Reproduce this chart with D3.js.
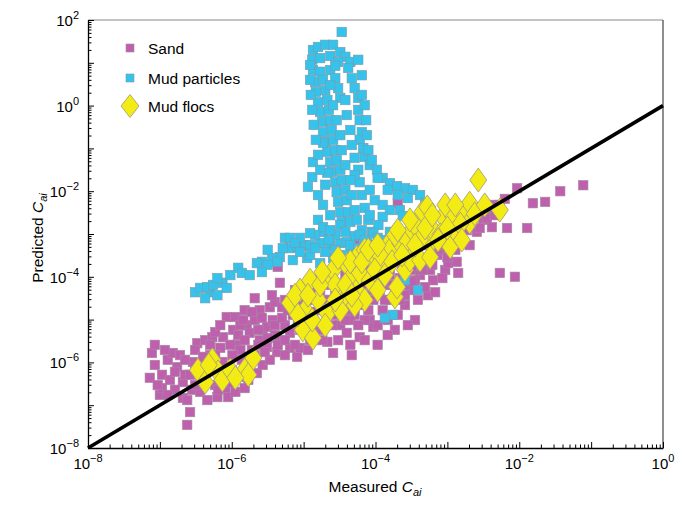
<!DOCTYPE html>
<html>
<head>
<meta charset="utf-8">
<script src="https://cdn.jsdelivr.net/npm/d3@7"></script>
<style>
    body { margin: 0; background: #fff; }
    svg { font-family: "Liberation Sans", Arial, Helvetica, sans-serif; }
</style>
</head>
<body>
<svg id="chart" width="689" height="507"></svg>
<script>
// values are log10 of [measured Cai, predicted Cai]
const sandLog = [
    [-7.14, -6.36], [-7.11, -5.78], [-7.07, -6.06], [-7.00, -6.76], [-6.97, -6.29], [-6.97, -6.60],
    [-6.89, -5.94], [-6.86, -6.41], [-6.82, -5.78], [-6.76, -6.11], [-6.72, -5.83], [-6.68, -6.46],
    [-6.68, -6.83], [-6.62, -6.88], [-6.62, -7.46], [-6.58, -7.16], [-6.55, -6.64], [-6.54, -5.99],
    [-6.48, -5.55], [-6.44, -6.29], [-6.44, -6.69], [-6.37, -5.48], [-6.34, -6.88], [-6.30, -5.83],
    [-6.27, -5.41], [-6.23, -6.53], [-6.20, -6.81], [-6.16, -5.66], [-6.12, -5.41], [-6.09, -6.60],
    [-6.07, -4.94], [-6.05, -6.81], [-6.02, -6.48], [-5.98, -5.24], [-5.95, -4.94], [-5.93, -5.59],
    [-5.88, -6.34], [-5.86, -5.94], [-5.79, -5.13], [-5.77, -6.41], [-5.75, -5.31], [-5.72, -5.71],
    [-5.68, -4.50], [-5.65, -6.25], [-5.61, -5.48], [-5.57, -5.24], [-5.57, -6.06], [-5.51, -5.64],
    [-5.51, -5.17], [-5.47, -4.71], [-5.43, -5.01], [-5.40, -4.59], [-5.37, -5.76], [-5.36, -3.77],
    [-5.33, -5.48], [-5.33, -4.14], [-5.30, -4.71], [-5.26, -5.13], [-5.19, -5.31], [-5.19, -5.66],
    [-5.15, -4.89], [-5.09, -5.87], [-5.05, -5.66], [-5.02, -4.54], [-4.98, -5.13], [-4.91, -5.48],
    [-4.87, -4.82], [-4.80, -4.43], [-4.77, -5.24], [-4.67, -5.52], [-4.63, -4.78], [-4.59, -5.78],
    [-4.56, -4.31], [-4.49, -5.13], [-4.40, -5.31], [-4.40, -4.50], [-4.33, -5.83], [-4.29, -3.19],
    [-4.29, -4.89], [-4.22, -5.41], [-4.17, -4.47], [-4.15, -4.08], [-4.08, -5.01], [-4.03, -5.17],
    [-4.03, -4.54], [-4.01, -3.79], [-3.97, -5.59], [-3.90, -4.78], [-3.87, -4.19], [-3.80, -4.54],
    [-3.77, -3.65], [-3.73, -5.24], [-3.69, -2.28], [-3.66, -4.03], [-3.62, -3.37], [-3.59, -4.66],
    [-3.52, -4.31], [-3.49, -3.84], [-3.45, -5.01], [-3.41, -3.26], [-3.38, -3.96], [-3.31, -3.61],
    [-3.27, -4.43], [-3.24, -3.02], [-3.20, -4.08], [-3.14, -3.49], [-3.10, -2.91], [-3.03, -3.84],
    [-2.99, -3.68], [-2.94, -3.26], [-2.87, -3.65], [-2.85, -3.91], [-2.82, -3.02], [-2.75, -2.67],
    [-2.69, -3.26], [-2.59, -2.95], [-2.50, -2.67], [-2.41, -2.49], [-2.38, -2.84], [-2.37, -2.32],
    [-2.27, -3.91], [-2.20, -2.18], [-2.17, -2.86], [-2.06, -4.00], [-2.03, -1.93], [-1.89, -2.86],
    [-1.81, -2.28], [-1.64, -2.25], [-1.43, -2.00], [-1.11, -1.86],
    [-5.05, -5.24], [-4.91, -4.96], [-4.77, -4.78], [-4.70, -5.13], [-4.56, -4.89], [-4.42, -4.78],
    [-4.35, -5.01], [-4.22, -4.66], [-4.15, -5.01], [-3.94, -4.43], [-3.83, -5.01], [-3.73, -4.31],
    [-3.66, -4.54], [-3.59, -4.19], [-3.45, -4.08], [-3.38, -3.61], [-3.24, -3.84], [-3.10, -3.37],
    [-2.96, -3.07], [-2.80, -2.84], [-2.62, -2.56], [-2.48, -2.44], [-3.94, -3.37], [-4.08, -3.49],
    [-4.22, -3.72], [-4.42, -3.96], [-4.63, -4.19], [-4.84, -4.08], [-4.98, -4.31], [-5.12, -4.31],
    [-5.26, -4.54], [-5.61, -4.78], [-5.82, -4.78], [-5.88, -5.13], [-6.02, -5.59], [-6.23, -5.83],
    [-6.37, -5.94], [-6.51, -6.22], [-6.65, -6.29], [-6.79, -6.64], [-5.68, -5.01], [-5.40, -5.36],
    [-5.26, -5.83], [-5.47, -5.94], [-5.75, -6.06], [-6.00, -6.18], [-6.27, -6.18], [-6.13, -5.99],
    [-5.88, -5.71], [-5.63, -5.59], [-5.05, -4.89], [-4.49, -4.54], [-4.29, -4.31], [-4.01, -4.12],
    [-3.80, -3.96], [-3.52, -3.56], [-3.31, -3.26], [-3.52, -3.14], [-3.73, -3.33], [-4.15, -3.84],
    [-4.35, -4.08], [-4.63, -4.54], [-4.91, -4.54], [-4.77, -4.31],
    [-7.07, -5.59], [-6.93, -5.71], [-7.03, -6.53], [-6.89, -6.76], [-6.79, -6.22], [-6.65, -5.94],
    [-6.58, -6.29], [-6.51, -6.53], [-6.51, -5.71], [-6.40, -5.87], [-6.30, -5.59], [-6.23, -5.29],
    [-6.16, -5.13], [-6.19, -6.64], [-6.09, -6.29], [-5.99, -5.83], [-5.95, -6.69], [-5.91, -5.36],
    [-5.84, -5.01], [-5.82, -5.48], [-5.82, -6.60], [-5.72, -4.82], [-5.68, -5.83], [-5.63, -5.24],
    [-5.58, -4.96], [-5.54, -5.76], [-5.50, -5.43], [-5.44, -4.43], [-5.40, -5.13], [-5.36, -5.59],
    [-5.30, -4.96], [-5.26, -5.48], [-5.22, -4.78], [-5.16, -4.54], [-5.12, -5.59], [-5.08, -5.08],
    [-4.98, -4.54], [-4.94, -5.71], [-4.88, -5.24], [-4.84, -4.31], [-4.74, -5.48], [-4.65, -4.54],
    [-4.60, -5.13], [-4.52, -5.48], [-4.47, -4.26], [-4.42, -5.01], [-4.35, -5.59], [-4.29, -4.54],
    [-4.24, -5.13], [-4.19, -4.19], [-4.15, -5.48], [-4.10, -4.78], [-4.05, -4.31], [-3.97, -5.13],
    [-3.91, -3.96], [-3.87, -4.54], [-3.83, -5.36], [-3.77, -4.19], [-3.69, -4.89], [-3.63, -3.72],
    [-3.59, -4.43], [-3.55, -5.13], [-3.49, -4.12], [-3.41, -4.54], [-3.35, -3.84], [-3.31, -4.24],
    [-3.21, -3.72], [-3.17, -4.36], [-3.13, -3.26], [-3.07, -4.03], [-3.00, -3.54], [-2.94, -2.91],
    [-2.89, -3.37], [-2.80, -3.14], [-2.73, -2.91], [-2.66, -2.72], [-2.55, -2.86], [-2.45, -2.63],
    [-2.34, -2.56], [-2.27, -2.32]
]

const mudLog = [
    [-4.47, 1.72],
    [-4.87, 1.30], [-4.80, 1.37], [-4.70, 1.42], [-4.59, 1.42], [-4.49, 1.25], [-4.42, 1.14],
    [-4.88, 1.07], [-4.77, 1.11], [-4.63, 1.16], [-4.52, 1.02], [-4.35, 1.02],
    [-4.87, 0.83], [-4.77, 0.79], [-4.63, 0.83], [-4.84, 0.55], [-4.73, 0.60], [-4.56, 0.64],
    [-4.83, 0.32], [-4.70, 0.36], [-4.52, 0.41], [-4.80, 0.08], [-4.67, 0.13], [-4.49, 0.18],
    [-4.77, -0.15], [-4.65, -0.10], [-4.74, -0.38], [-4.63, -0.34], [-4.73, -0.62], [-4.61, -0.57],
    [-4.70, -0.85], [-4.59, -0.80], [-4.67, -1.08], [-4.56, -1.04], [-4.63, -1.32], [-4.54, -1.27],
    [-4.61, -1.55], [-4.49, -1.50], [-4.56, -1.79], [-4.47, -1.74], [-4.54, -2.02], [-4.42, -1.97],
    [-4.52, -2.25], [-4.40, -2.21], [-4.49, -2.49], [-4.38, -2.49], [-4.47, -2.72], [-4.35, -2.72],
    [-4.38, 0.88], [-4.33, 0.64], [-4.29, 0.41], [-4.24, 0.18], [-4.19, 0.25], [-4.24, -0.10],
    [-4.22, -0.34], [-4.19, -0.62], [-4.22, -0.80], [-4.17, -0.99], [-4.15, -1.20], [-4.08, -1.39],
    [-3.98, -1.50], [-3.90, -1.69], [-3.80, -1.81], [-3.70, -1.88], [-3.59, -1.93], [-3.48, -1.97],
    [-3.38, -2.09], [-3.31, -2.28],
    [-4.42, 0.13], [-4.40, -0.22], [-4.35, -0.57], [-4.33, -0.92], [-4.29, -1.22], [-4.24, -1.50],
    [-4.22, -1.79], [-4.19, -2.09], [-4.15, -2.39], [-4.10, -2.67], [-4.05, -2.95],
    [-4.29, -1.62], [-4.08, -1.97], [-4.01, -2.21], [-3.90, -2.32], [-3.80, -2.44], [-3.66, -2.44],
    [-3.62, -2.58], [-3.90, -2.60], [-4.08, -2.56], [-4.26, -2.67], [-3.96, -2.79], [-4.19, -2.91],
    [-4.29, -3.05],
    [-4.87, -1.32], [-4.88, -1.67], [-4.94, -1.90], [-4.80, -2.09], [-4.73, -0.87], [-4.67, -1.57],
    [-4.73, -2.32], [-4.80, -2.67], [-4.73, -2.95], [-4.63, -2.56],
    [-4.91, 0.95], [-4.91, 0.60], [-4.90, 0.25], [-4.88, -0.10], [-4.86, -0.45], [-4.83, -0.80],
    [-4.80, -1.15], [-4.77, -1.50], [-4.70, -1.85],
    [-4.56, 0.93], [-4.63, 0.48], [-4.59, 0.01], [-4.54, -0.34], [-4.49, -0.69], [-4.47, -1.04],
    [-4.42, -1.39], [-4.35, -1.74], [-4.33, -2.09], [-4.29, -2.44],
    [-4.24, 1.07], [-4.19, 0.71], [-4.15, 0.01], [-4.13, -0.34], [-4.12, -0.69], [-4.10, -1.04],
    [-4.05, -1.27], [-3.97, -1.69], [-3.83, -1.97], [-3.69, -2.09], [-3.55, -2.16],
    [-5.26, -3.09], [-5.19, -3.33], [-5.09, -3.30], [-4.98, -3.26], [-4.91, -3.26], [-4.77, -3.21],
    [-4.63, -3.26], [-4.49, -3.21], [-4.40, -3.19], [-4.22, -3.02], [-4.12, -3.21], [-4.03, -2.98],
    [-4.49, -2.79], [-4.73, -2.84], [-5.33, -3.54], [-5.15, -3.61], [-4.95, -3.56], [-4.77, -3.68],
    [-4.59, -3.56], [-5.05, -3.09], [-4.84, -3.02], [-4.56, -3.02], [-4.33, -3.37], [-3.94, -3.26],
    [-5.19, -3.09], [-5.05, -3.42], [-4.91, -3.49], [-4.84, -3.33], [-4.70, -3.42], [-4.65, -3.14],
    [-4.56, -3.37], [-4.42, -3.49], [-4.35, -3.26], [-4.24, -3.33], [-4.15, -3.14], [-4.05, -3.26],
    [-3.97, -3.09], [-3.87, -3.14], [-3.80, -2.95], [-4.42, -2.95], [-4.63, -2.91], [-4.91, -2.98],
    [-5.12, -3.21], [-5.44, -3.56], [-5.58, -3.65], [-5.91, -3.79], [-6.13, -4.14], [-6.30, -4.36],
    [-6.51, -4.36],
    [-6.44, -4.26], [-6.34, -4.24], [-6.26, -4.19], [-6.20, -4.03], [-6.07, -4.26], [-6.37, -4.50],
    [-6.20, -4.43], [-6.02, -3.96], [-5.86, -3.91], [-5.75, -3.96], [-5.65, -3.68], [-5.50, -3.72],
    [-5.50, -3.37], [-5.37, -3.65], [-5.29, -3.33], [-5.58, -3.89],
    [-3.41, -4.31], [-3.76, -4.89], [-3.87, -4.96], [-3.59, -4.08]
]

const flocLog = [
    [-6.47, -6.18], [-6.37, -6.46], [-6.27, -5.94], [-6.19, -6.22], [-6.13, -6.41], [-6.02, -6.18],
    [-5.82, -6.18], [-5.70, -5.90], [-5.77, -6.29], [-6.32, -6.06], [-5.95, -6.36],
    [-5.19, -4.61], [-5.05, -4.31], [-5.01, -5.24], [-4.91, -4.08], [-4.87, -5.43], [-4.80, -4.54],
    [-4.67, -4.85], [-4.63, -4.03], [-4.59, -3.84], [-4.49, -4.31], [-4.45, -4.61], [-4.40, -3.72],
    [-4.35, -4.03], [-4.26, -3.54], [-4.26, -4.31], [-4.22, -3.91], [-4.15, -4.54], [-4.08, -4.08],
    [-4.03, -3.61], [-3.97, -4.31], [-3.90, -3.68], [-3.83, -3.26], [-3.80, -3.37], [-3.73, -4.47],
    [-3.70, -4.24], [-3.66, -3.21], [-3.59, -3.84], [-3.56, -3.14], [-3.52, -3.61], [-3.49, -2.91],
    [-3.38, -3.61], [-3.35, -2.49], [-3.28, -2.37], [-3.24, -3.21], [-3.24, -3.54], [-3.20, -2.91],
    [-3.06, -2.60], [-2.96, -3.30], [-2.92, -2.60], [-2.87, -2.98], [-2.78, -2.51], [-2.69, -2.28],
    [-2.69, -2.72], [-2.57, -1.74], [-2.27, -2.44], [-3.10, -3.02], [-3.45, -2.79], [-3.73, -3.02],
    [-3.94, -3.49], [-4.15, -3.37], [-4.35, -3.65], [-4.56, -4.19], [-4.77, -4.19], [-4.98, -4.78],
    [-4.70, -5.13], [-4.49, -4.78], [-4.29, -4.66], [-4.01, -3.84], [-3.38, -3.14], [-3.03, -2.32],
    [-2.82, -2.77],
    [-5.12, -4.43], [-5.08, -4.89], [-4.94, -4.43], [-4.88, -5.01], [-4.74, -3.89], [-4.56, -4.54],
    [-4.52, -3.56], [-4.42, -4.19], [-4.33, -4.43], [-4.19, -3.65], [-4.10, -3.37], [-3.97, -3.26],
    [-3.87, -3.96], [-3.77, -3.65], [-3.69, -2.91], [-3.63, -3.49], [-3.52, -2.67], [-3.45, -3.26],
    [-3.31, -2.86], [-3.21, -2.56], [-3.13, -3.14], [-3.00, -2.86], [-2.89, -2.32], [-2.80, -3.14],
    [-2.62, -2.53], [-2.48, -2.32]
]

const seriesNames = ['Sand', 'Mud particles', 'Mud flocs']
const xTickExp = [-8, -6, -4, -2, 0]
const yTickExp = [2, 0, -2, -4, -6, -8]
const fitLine = [1e-8, 1]

const svg = d3.select('#chart')
const plotLeft = 88, plotRight = 663, plotTop = 20, plotBottom = 448

const x = d3.scaleLog().domain([1e-8, 1]).range([plotLeft, plotRight])
const y = d3.scaleLog().domain([1e-8, 1e2]).range([plotBottom, plotTop])

const isDecade = v => Math.abs(Math.log10(v) - Math.round(Math.log10(v))) < 1e-9

// рамка
svg.append('line').attr('x1', plotLeft).attr('x2', plotRight).attr('y1', plotTop).attr('y2', plotTop)
    .attr('stroke', '#8a8a8a').attr('stroke-width', 1.2)
svg.append('line').attr('x1', plotRight).attr('x2', plotRight).attr('y1', plotTop).attr('y2', plotBottom)
    .attr('stroke', '#444').attr('stroke-width', 1.2)

// оси с тиками внутрь
const xAxis = svg.append('g').attr('transform', `translate(0,${plotBottom})`)
    .call(d3.axisBottom(x).tickValues(x.ticks(20)).tickFormat('').tickSizeOuter(0)
        .tickSizeInner(-3.5))
xAxis.selectAll('.tick line').filter(d => isDecade(d)).attr('y2', -6)
xAxis.select('.domain').attr('stroke', '#000').attr('stroke-width', 1.3)

const yAxis = svg.append('g').attr('transform', `translate(${plotLeft},0)`)
    .call(d3.axisLeft(y).tickValues(y.ticks(20)).tickFormat('').tickSizeOuter(0)
        .tickSizeInner(-3.5))
yAxis.selectAll('.tick line').filter(d => isDecade(d)).attr('x2', 6)
yAxis.select('.domain').attr('stroke', '#000').attr('stroke-width', 1.3)

// подписи тиков 10^n
function powerLabel(sel, e) {
    sel.append('tspan').text('10')
    sel.append('tspan').attr('dy', -7).attr('font-size', 11)
        .text(e < 0 ? '\u2212' + Math.abs(e) : String(e))
}

svg.selectAll('text.xlab').data(xTickExp).enter().append('text')
    .attr('class', 'xlab')
    .attr('x', d => x(10 ** d))
    .attr('y', 469)
    .attr('text-anchor', 'middle')
    .attr('font-size', 15)
    .each(function (d) { powerLabel(d3.select(this), d) })

svg.selectAll('text.ylab').data(yTickExp).enter().append('text')
    .attr('class', 'ylab')
    .attr('x', 79)
    .attr('y', d => y(10 ** d) + 6)
    .attr('text-anchor', 'end')
    .attr('font-size', 15)
    .each(function (d) { powerLabel(d3.select(this), d) })

// заголовки осей
function axisTitle(sel, label) {
    sel.append('tspan').text(label + ' ')
    sel.append('tspan').attr('font-style', 'italic').text('C')
    sel.append('tspan').attr('font-style', 'italic').attr('font-size', 11).attr('dy', 4).text('ai')
}
axisTitle(svg.append('text').attr('x', 375).attr('y', 492).attr('text-anchor', 'middle')
    .attr('font-size', 15.5), 'Measured')
axisTitle(svg.append('text').attr('transform', 'translate(43,238) rotate(-90)')
    .attr('text-anchor', 'middle').attr('font-size', 15.5), 'Predicted')

// точки
const toVal = d => [10 ** d[0], 10 ** d[1]]
const sandSize = 9.5, mudSize = 9.5

svg.append('g').selectAll('rect').data(sandLog.map(toVal)).enter().append('rect')
    .attr('x', d => x(d[0]) - sandSize / 2)
    .attr('y', d => y(d[1]) - sandSize / 2)
    .attr('width', sandSize).attr('height', sandSize)
    .attr('fill', '#bf60ae').attr('stroke', '#a58aa0').attr('stroke-width', 0.6)

svg.append('g').selectAll('rect').data(mudLog.map(toVal)).enter().append('rect')
    .attr('x', d => x(d[0]) - mudSize / 2)
    .attr('y', d => y(d[1]) - mudSize / 2)
    .attr('width', mudSize).attr('height', mudSize)
    .attr('fill', '#35c3ec').attr('stroke', '#7c9aab').attr('stroke-width', 0.6)

const diamond = 'M0,-12L8.5,0L0,12L-8.5,0Z'
svg.append('g').selectAll('path').data(flocLog.map(toVal)).enter().append('path')
    .attr('transform', d => `translate(${x(d[0])},${y(d[1])})`)
    .attr('d', diamond)
    .attr('fill', '#f3eb14').attr('stroke', '#a9a27a').attr('stroke-width', 0.9)

// линия 1:1
svg.append('line')
    .attr('x1', x(fitLine[0])).attr('y1', y(fitLine[0]))
    .attr('x2', x(fitLine[1])).attr('y2', y(fitLine[1]))
    .attr('stroke', '#000').attr('stroke-width', 3.6)

// легенда
const legend = svg.append('g')
const legendY = [48, 78, 106]
legend.append('rect').attr('x', 126).attr('y', legendY[0] - 4).attr('width', 8).attr('height', 8)
    .attr('fill', '#bf60ae').attr('stroke', '#a58aa0').attr('stroke-width', 0.6)
legend.append('rect').attr('x', 126).attr('y', legendY[1] - 4).attr('width', 8).attr('height', 8)
    .attr('fill', '#35c3ec').attr('stroke', '#7c9aab').attr('stroke-width', 0.6)
legend.append('path').attr('transform', `translate(130,${legendY[2]})`)
    .attr('d', 'M0,-11.5L9,0L0,11.5L-9,0Z')
    .attr('fill', '#f3eb14').attr('stroke', '#a9a27a').attr('stroke-width', 0.9)
legend.selectAll('text').data(seriesNames).enter().append('text')
    .attr('x', 148)
    .attr('y', (d, i) => legendY[i] + 5.5)
    .attr('font-size', 15.5)
    .text(d => d)
</script>
</body>
</html>
